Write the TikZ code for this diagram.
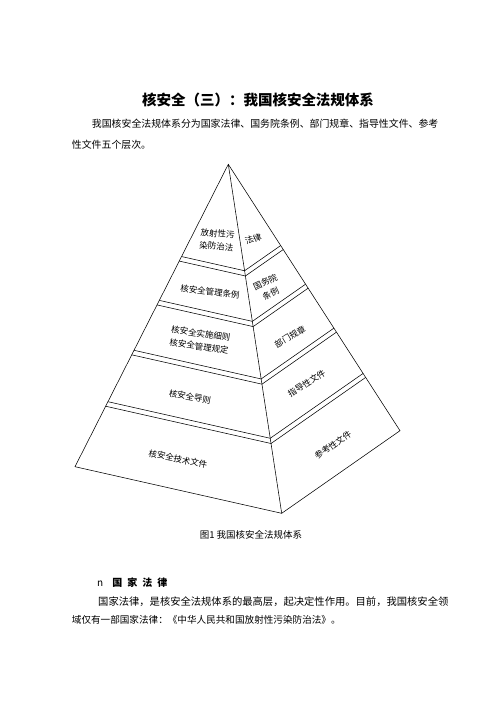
\documentclass[tikz,border=0pt]{standalone}
\usepackage{fontspec}
\setmainfont{Noto Sans CJK SC}
\usetikzlibrary{positioning}
\usetikzlibrary{calc}

\begin{document}
\begin{tikzpicture}[x=1pt,y=-1pt,
    edge/.style={line width=0.55pt},
    lbl/.style={font=\fontsize{8.5}{13}\selectfont,align=center,inner sep=0pt},
    body/.style={font=\fontsize{9.9}{12}\selectfont,anchor=west,inner sep=0pt}]
            \useasboundingbox (0,0) rectangle (496,702);

            \node[font=\fontsize{14.5}{16}\selectfont\bfseries] (title) at (258,100) {核安全（三）：我国核安全法规体系};
            \node[body] (intro1) at (91.7,124) {我国核安全法规体系分为国家法律、国务院条例、部门规章、指导性文件、参考};
            \node[body] (intro2) at (71.7,145) {性文件五个层次。};

            \coordinate (top) at (228.3,164.3);
            \coordinate (bl) at (75,466.7);
            \coordinate (bc) at (281.7,513.3);
            \coordinate (br) at (400,430.7);
            \draw[edge] (top) -- (bl) -- (bc) -- (br) -- cycle;
            \draw[edge] (top) -- (bc);
            \foreach \t in {0.305,0.32,0.45,0.465,0.615,0.63,0.785,0.80}
                \draw[edge] ($(top)!\t!(bl)$) -- ($(top)!\t!(bc)$) -- ($(top)!\t!(br)$);

            \node[lbl,rotate=-5] (law) at (217,240) {放射性污\\染防治法};
            \node[lbl,rotate=20] (lawR) at (253.3,239) {法律};
            \node[lbl,rotate=-7] (reg) at (210,291.7) {核安全管理条例};
            \node[lbl,rotate=25] (regR) at (268,288) {国务院\\条例};
            \node[lbl,rotate=-8] (rule) at (200,340) {核安全实施细则\\核安全管理规定};
            \node[lbl,rotate=30] (ruleR) at (290,336.7) {部门规章};
            \node[lbl,rotate=-10] (guide) at (190,396.7) {核安全导则};
            \node[lbl,rotate=32] (guideR) at (306.7,383.3) {指导性文件};
            \node[lbl,rotate=-12] (tech) at (178,459) {核安全技术文件};
            \node[lbl,rotate=35] (techR) at (333,445) {参考性文件};

            \node[font=\fontsize{9.5}{12}\selectfont] (cap) at (251,535) {图1 我国核安全法规体系};

            \node[body,font=\fontsize{10}{12}\selectfont] (head) at (97,582.7) {n\hspace{9pt}\bfseries 国\hspace{5pt}家\hspace{5pt}法\hspace{5pt}律};
            \node[body,font=\fontsize{10.3}{12}\selectfont] (text1) at (98,601.7) {国家法律，是核安全法规体系的最高层，起决定性作用。目前，我国核安全领};
            \node[body,font=\fontsize{9.6}{12}\selectfont] (text2) at (71.7,620) {域仅有一部国家法律：《中华人民共和国放射性污染防治法》。};
        \end{tikzpicture}
\end{document}
